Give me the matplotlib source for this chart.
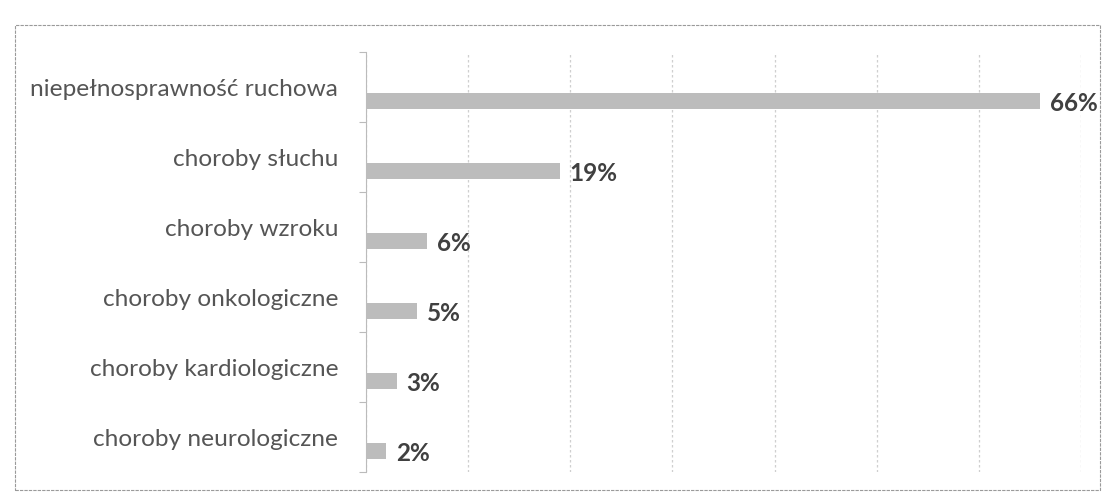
import matplotlib
matplotlib.use("Agg")
import matplotlib.pyplot as plt
from matplotlib.patches import Rectangle
import numpy as np

categories = ["niepełnosprawność ruchowa", "choroby słuchu", "choroby wzroku",
              "choroby onkologiczne", "choroby kardiologiczne", "choroby neurologiczne"]
values = [66, 19, 6, 5, 3, 2]
value_labels = ["66%", "19%", "6%", "5%", "3%", "2%"]
x_ticks = [0, 10, 20, 30, 40, 50, 60, 70]

fig = plt.figure(figsize=(11.04, 4.98), dpi=100)
fig.patch.set_facecolor("white")
ax = fig.add_axes([366/1104, 1 - 472/498, 715/1104, 420/498])

pos = np.arange(len(categories))
bar_offset = 0.2
ax.barh(pos + bar_offset, values, height=0.22, color="#bcbcbc", zorder=3)

for p, v, lab in zip(pos, values, value_labels):
    ax.annotate(lab, (v, p + bar_offset), xytext=(7, -2), textcoords="offset points",
                ha="left", va="center", fontsize=17.5, color="#404040",
                family="Lato", fontweight="bold")

ax.set_xlim(0, 70)
ax.set_ylim(len(categories) - 0.5, -0.5)
ax.set_xticks(x_ticks)
ax.tick_params(axis="x", length=0, labelbottom=False)
ax.xaxis.grid(True, color="#cfcfcf", linestyle=(0, (2, 2)), linewidth=0.9, zorder=0)

ax.set_yticks(pos)
ax.set_yticklabels(categories, family="Lato", fontsize=17.6, color="#555555",
                   fontweight="normal")
ax.set_yticks(np.arange(-0.5, len(categories), 1), minor=True)
ax.tick_params(axis="y", which="major", length=0, pad=20)
ax.tick_params(axis="y", which="minor", length=5, color="#bbbbbb", width=0.8)

for s in ["top", "right", "bottom"]:
    ax.spines[s].set_visible(False)
ax.spines["left"].set_color("#bbbbbb")
ax.spines["left"].set_linewidth(0.8)
ax.spines["left"].set_linestyle((0, (2, 1)))

# chart frame
frame = Rectangle((15/1104, 1 - 490/498), (1100 - 15)/1104, (490 - 25)/498,
                  transform=fig.transFigure, fill=False, edgecolor="#9a9a9a",
                  linewidth=0.8, linestyle=(0, (3, 1)))
fig.patches.append(frame)

fig.savefig("out.png", dpi=100, facecolor="white")
